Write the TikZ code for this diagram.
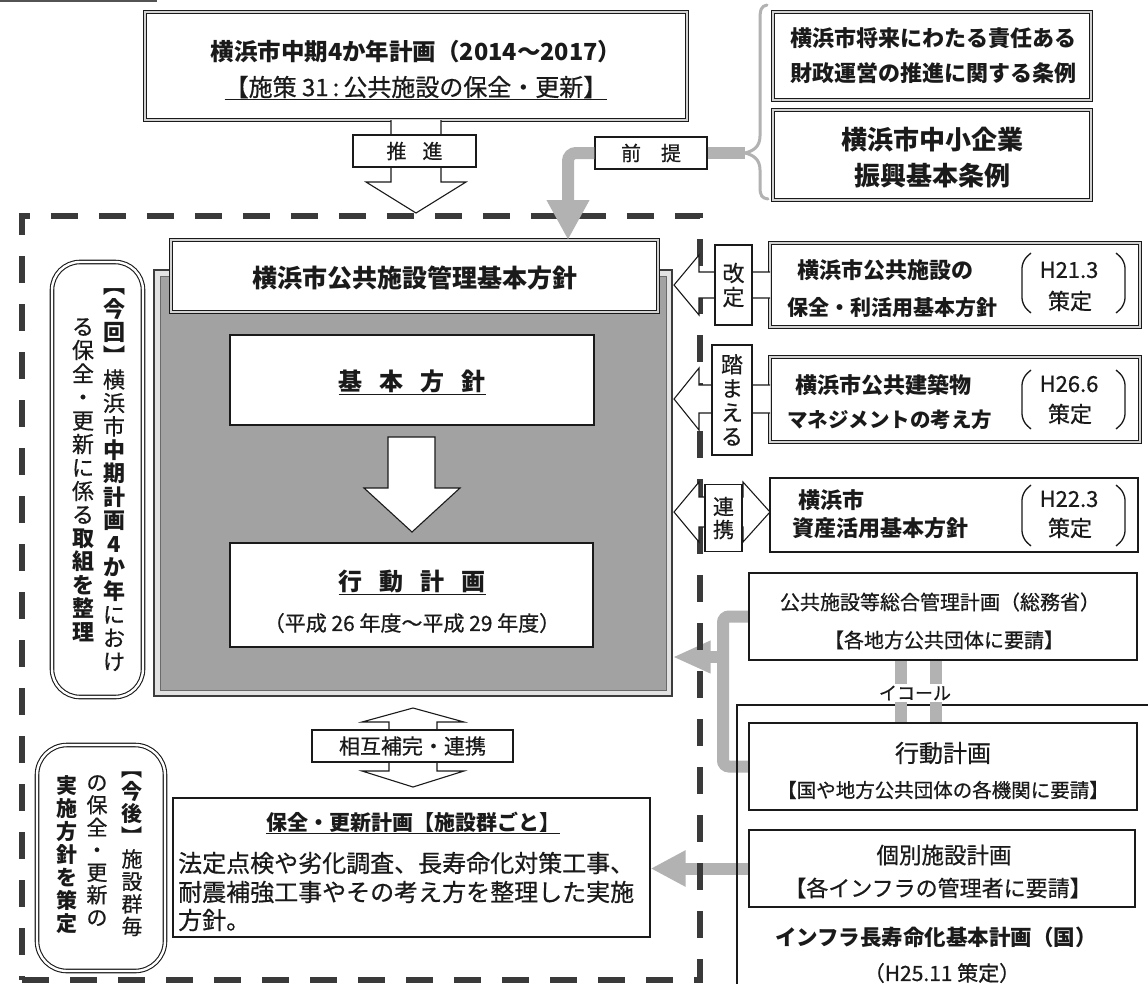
\documentclass[tikz,border=0pt]{standalone}
\usepackage{fontspec}
\setmainfont{Noto Sans CJK JP}[UprightFeatures={FakeBold=0.6}]
\usetikzlibrary{arrows.meta,calc}
\pgfdeclarelayer{bg}
\pgfsetlayers{bg,main}
\definecolor{ink}{HTML}{1A1A1A}
\definecolor{lgray}{HTML}{B2B2B2}
\definecolor{dashc}{HTML}{3A3A3A}
\definecolor{blockg}{HTML}{A2A2A2}
\definecolor{blockrim}{HTML}{E2E2E2}
\definecolor{band}{HTML}{D2D2D2}
\newcommand\fsz[1]{\fontsize{#1pt}{#1pt}\selectfont}
\newcommand\vsz[2]{\fontsize{#1pt}{#2pt}\selectfont}
\newcommand\parenpair[2]{%
  \draw[ink, line width=1.3pt, rounded corners=7pt] (1031,#1) -- (1022,{#1+8}) -- (1022,{#2-8}) -- (1031,#2);
  \draw[ink, line width=1.3pt, rounded corners=7pt] (1116,#1) -- (1125,{#1+8}) -- (1125,{#2-8}) -- (1116,#2);}
\tikzset{
  txt/.style={inner sep=0pt, text=ink},
  plain/.style={draw=ink, line width=1.1pt, fill=white, inner sep=0pt},
  dbl/.style={draw=ink, line width=0.9pt, double=band, double distance=2.6pt, fill=white, inner sep=0pt},
  dblround/.style={draw=ink, line width=1.1pt, double=white, double distance=2.4pt, fill=white, inner sep=0pt, rounded corners=#1},
  lbl/.style={draw=ink, line width=1.1pt, fill=white, inner sep=0pt, text=ink},
  hollow/.style={draw=ink, line width=1.1pt, fill=white, line join=miter},
  gconn/.style={draw=lgray, line width=12pt},
  dashframe/.style={draw=dashc, line width=6pt, dash pattern=on 27pt off 21pt, inner sep=0pt},
}
\begin{document}
\begin{tikzpicture}[x=1pt,y=-1pt]
\useasboundingbox (0,0) rectangle (1148,983);

\draw[ink!75, line width=2pt] (0,1) -- (157,1);

% ---- top box
\node[dbl, minimum width=542pt, minimum height=108pt] (top) at (416,66) {};
\node[txt, font=\bfseries\fsz{23.5}] (topA) at (416,52) {横浜市中期4か年計画（2014〜2017）};
\node[txt, font=\fsz{24}] (topB) at (416,88) {\underline{【施策 31\,:\,公共施設の保全・更新】}};

% 推進 arrow
\draw[hollow] (391,120) -- (391,182) -- (366,182) -- (416,213) -- (466,182) -- (441,182) -- (441,120);
\node[lbl, minimum width=123pt, minimum height=32pt, font=\fsz{20}] (suishin) at (414.5,151) {推\hspace{16pt}進};

% 前提
\node[lbl, minimum width=112pt, minimum height=32pt, font=\fsz{20}] (zentei) at (651,153) {前\hspace{20pt}提};
\coordinate (bracetip) at (745,153);
\draw[lgray, line width=3pt, line cap=round] (767,5) .. controls (761,6) and (760,10) .. (760,20) -- (760,136) .. controls (760,147) and (753,151) .. (bracetip) .. controls (753,155) and (760,159) .. (760,170) -- (760,187) .. controls (760,196) and (762,198) .. (768,199);
\draw[gconn] (zentei.east) -- (bracetip);
\coordinate (zentip) at (568,240);

% right top boxes
\node[dbl, minimum width=318pt, minimum height=88pt] (jorei1) at (932,56) {};
\node[txt, font=\bfseries\fsz{22}] (jorei1a) at (933,38) {横浜市将来にわたる責任ある};
\node[txt, font=\bfseries\fsz{22}] (jorei1b) at (933,73) {財政運営の推進に関する条例};
\node[dbl, minimum width=318pt, minimum height=90pt] (jorei2) at (932,155) {};
\node[txt, font=\bfseries\fsz{26}] (jorei2a) at (932,140) {横浜市中小企業};
\node[txt, font=\bfseries\fsz{26}] (jorei2b) at (932,176) {振興基本条例};

% ---- main block
\node[draw=ink!85, line width=1.2pt, fill=blockrim, minimum width=518pt, minimum height=426pt, inner sep=0pt] (block) at (413,483) {};
\node[draw=ink!65, line width=1pt, fill=blockg, minimum width=506pt, minimum height=414pt, inner sep=0pt] (blockin) at (413,483) {};
\node[dbl, minimum width=487pt, minimum height=72pt] (kihon) at (414.5,276) {};
\node[txt, font=\bfseries\fsz{25}] (kihont) at (415,278) {横浜市公共施設管理基本方針};
\node[plain, minimum width=364pt, minimum height=90pt] (hoshin) at (412,380) {};
\node[txt, font=\bfseries\fsz{24}] (hoshint) at (412,382) {\underline{基\hspace{17pt}本\hspace{17pt}方\hspace{17pt}針}};
\draw[hollow] (388,437) -- (435,437) -- (435,488) -- (460,488) -- (412,532) -- (364,488) -- (388,488) -- cycle;
\node[plain, minimum width=363pt, minimum height=104pt] (kodo) at (411.5,595) {};
\node[txt, font=\bfseries\fsz{24}] (kodot) at (412,582) {\underline{行\hspace{17pt}動\hspace{17pt}計\hspace{17pt}画}};
\node[txt, font=\fsz{21}] (kodok) at (412,623) {（平成 26 年度〜平成 29 年度）};

% 前提 arrow (over frame)
\draw[gconn, rounded corners=8pt, -{Triangle[width=40pt,length=40pt]}] (zentei.west) -| (zentip);

% mutual arrow
\draw[hollow] (413,708) -- (464,722) -- (437,722) -- (437,771) -- (464,771) -- (413,787) -- (362,771) -- (389,771) -- (389,722) -- (362,722) -- cycle;
\node[lbl, minimum width=201pt, minimum height=32pt, font=\fsz{21}] (sogo) at (412.5,746) {相互補完・連携};

% 保全・更新計画
\node[plain, line width=1.3pt, minimum width=477pt, minimum height=139pt] (hozen) at (411.5,867.5) {};
\node[txt, font=\bfseries\fsz{21}] (hozent) at (413,823) {\underline{保全・更新計画【施設群ごと】}};
\node[txt, anchor=west, font=\fsz{24}] (hozen1) at (178,863) {法定点検や劣化調査、長寿命化対策工事、};
\node[txt, anchor=west, font=\fsz{24}] (hozen2) at (178,892) {耐震補強工事やその考え方を整理した実施};
\node[txt, anchor=west, font=\fsz{24}] (hozen3) at (178,920) {方針。};

% left rounded boxes
\node[dblround=28pt, minimum width=91pt, minimum height=435pt] (konkai) at (97.5,479.5) {};
\node[txt, align=center, font=\vsz{22}{23.5}] (konkaiR) at (114,480) {\textbf{︻}\\\textbf{今}\\\textbf{回}\\\textbf{︼}\\横\\浜\\市\\\textbf{中}\\\textbf{期}\\\textbf{計}\\\textbf{画}\\\textbf{4}\\\textbf{か}\\\textbf{年}\\に\\お\\け};
\node[txt, align=center, font=\vsz{22}{23.5}] (konkaiL) at (83,480) {る\\保\\全\\・\\更\\新\\に\\係\\る\\\textbf{取}\\\textbf{組}\\\textbf{を}\\\textbf{整}\\\textbf{理}};

\node[dblround=30pt, minimum width=128pt, minimum height=226pt] (kongo) at (101,858) {};
\node[txt, align=center, anchor=north, font=\vsz{21}{22.5}] (kongoR) at (132,772) {\textbf{︻}\\\textbf{今}\\\textbf{後}\\\textbf{︼}\\施\\設\\群\\毎};
\node[txt, align=center, anchor=north, font=\vsz{21}{22.5}] (kongoM) at (97,775) {の\\保\\全\\・\\更\\新\\の};
\node[txt, align=center, anchor=north, font=\bfseries\vsz{21}{23}] (kongoL) at (67,775) {実\\施\\方\\針\\を\\策\\定};

% ---- right side policy boxes
\node[dbl, minimum width=370pt, minimum height=84pt] (r1) at (955,285) {};
\draw[hollow] (770,272) -- (699,272) -- (699,255) -- (674,285) -- (699,315) -- (699,298) -- (770,298);
\node[lbl, minimum width=37pt, minimum height=80pt, align=center, font=\vsz{22}{24}] (kaitei) at (733.5,285) {改\\定};
\node[txt, anchor=west, font=\bfseries\fsz{22}] (r1a) at (797,270) {横浜市公共施設の};
\node[txt, anchor=west, font=\bfseries\fsz{21}] (r1b) at (787,308) {保全・利活用基本方針};
\node[txt, font=\fsz{22}] (r1c) at (1069,270) {H21.3};
\node[txt, font=\fsz{22}] (r1d) at (1070,301) {策定};
\parenpair{253}{313}

\node[dbl, minimum width=370pt, minimum height=85pt] (r2) at (955,399.5) {};
\draw[hollow] (770,385) -- (699,385) -- (699,368) -- (674,399) -- (699,430) -- (699,413) -- (770,413);
\node[lbl, minimum width=40pt, minimum height=110pt, align=center, font=\vsz{22}{24}] (fumaeru) at (732,400) {踏\\ま\\え\\る};
\node[txt, anchor=west, font=\bfseries\fsz{22}] (r2a) at (795,385) {横浜市公共建築物};
\node[txt, anchor=west, font=\bfseries\fsz{20.5}] (r2b) at (787,420) {マネジメントの考え方};
\node[txt, font=\fsz{22}] (r2c) at (1069,384) {H26.6};
\node[txt, font=\fsz{22}] (r2d) at (1070,414) {策定};
\parenpair{370}{429}

\node[plain, line width=1.6pt, minimum width=368pt, minimum height=74pt] (r3) at (954,515) {};
\draw[hollow] (674,512) -- (699,482) -- (699,497) -- (743,497) -- (743,482) -- (770,512) -- (743,542) -- (743,527) -- (699,527) -- (699,542) -- cycle;
\node[lbl, minimum width=37pt, minimum height=67pt, align=center, font=\vsz{21}{23}] (renkei) at (723.5,518) {連\\携};
\node[txt, anchor=west, font=\bfseries\fsz{22}] (r3a) at (798,500) {横浜市};
\node[txt, anchor=west, font=\bfseries\fsz{22}] (r3b) at (792,528) {資産活用基本方針};
\node[txt, font=\fsz{22}] (r3c) at (1069,499) {H22.3};
\node[txt, font=\fsz{22}] (r3d) at (1070,528) {策定};
\parenpair{485}{546}

% ---- lower right
\draw[ink, line width=1.2pt] (1152,705) -- (737,705) -- (737,987);
\node[plain, line width=1.6pt, minimum width=388pt, minimum height=87pt] (kk) at (943,616.5) {};
\node[txt, font=\fsz{20}] (kka) at (940,602) {公共施設等総合管理計画（総務省）};
\node[txt, font=\fsz{20}] (kkb) at (944,640) {【各地方公共団体に要請】};
\node[plain, line width=1.6pt, minimum width=388pt, minimum height=87pt] (kd) at (943,766.5) {};
\node[txt, font=\fsz{24}] (kda) at (943,753) {行動計画};
\node[txt, font=\fsz{19.5}] (kdb) at (943,790) {【国や地方公共団体の各機関に要請】};
\node[plain, line width=1.3pt, minimum width=386pt, minimum height=77pt] (kb) at (942,868.5) {};
\node[txt, font=\fsz{22.5}] (kba) at (944,855) {個別施設計画};
\node[txt, font=\fsz{22}] (kbb) at (938,888) {【各インフラの管理者に要請】};
\node[txt, font=\bfseries\fsz{21.5}] (infra) at (936,937) {インフラ長寿命化基本計画（国）};
\node[txt, font=\fsz{21}] (infrad) at (942,973) {（H25.11 策定）};

\draw[gconn] ($(kk.south)+(-42,0)$) -- ($(kd.north)+(-42,0)$);
\draw[gconn] ($(kk.south)+(-7,0)$) -- ($(kd.north)+(-7,0)$);
\node[txt, fill=white, inner sep=1.5pt, font=\fsz{18}] (equal) at (915,693) {イコール};

% ---- background layer
\begin{pgfonlayer}{bg}
\fill[white] (0,0) rectangle (1148,983);
\coordinate (g1a) at (723,657);
\coordinate (g1b) at (block.east |- g1a);
\coordinate (g1c) at (723,700);
\draw[gconn, rounded corners=6pt] (kk.west) -| (g1c) |- (kd.west);
\draw[gconn, -{Triangle[width=30pt,length=38pt]}] (g1a) -- (g1b);
\draw[gconn, -{Triangle[width=34pt,length=35pt]}] (kb.west) -- (hozen.east |- kb.west);
\node[dashframe, minimum width=677.5pt, minimum height=764.5pt] (frame) at (360.75,597.75) {};
\end{pgfonlayer}
\end{tikzpicture}
\end{document}
